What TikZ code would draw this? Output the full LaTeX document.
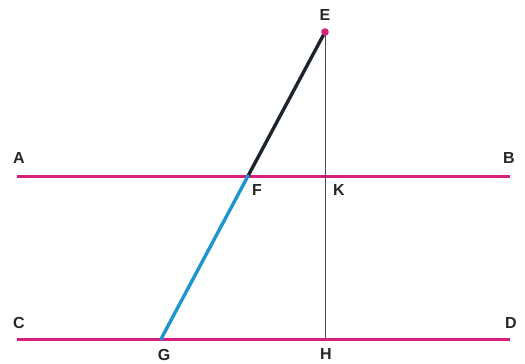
\documentclass[tikz,border=0pt]{standalone}
\usepackage{fontspec}
\setmainfont{Liberation Sans}
\usepackage{xcolor}
\usetikzlibrary{positioning, calc}
\definecolor{linepink}{RGB}{214, 32, 128}
\definecolor{segblue}{RGB}{28, 150, 210}
\definecolor{segdark}{RGB}{30, 36, 44}

\begin{document}
\begin{tikzpicture}[x=1pt, y=-1pt,
    parallel/.style={linepink, line width=3pt},
    ptlabel/.style={font=\fontsize{16}{16}\selectfont\bfseries, text=black!85, inner sep=0pt}]
        \useasboundingbox (0,0) rectangle (525,364);
        % points
        \coordinate (A) at (17,176);
        \coordinate (B) at (510,176);
        \coordinate (C) at (17,339);
        \coordinate (D) at (510,339);
        \coordinate (E) at (325,32);
        \coordinate (F) at (248,176);
        \coordinate (G) at (161,339);
        \coordinate (K) at (325,176);
        \coordinate (H) at (325,339);
        % the two parallels
        \draw[parallel] (A) -- (B);
        \draw[parallel] (C) -- (D);
        % perpendicular from E
        \draw[black!70, line width=0.8pt] (E) -- (H);
        % transversal
        \draw[segdark, line width=3.4pt, line cap=round] (E) -- (F);
        \draw[segblue, line width=3.4pt, line cap=round] (F) -- (G);
        \fill[linepink] (E) circle (3.8);
        % labels
        \node[ptlabel] (lE) at (325,15) {E};
        \node[ptlabel] (lA) at (19,158) {A};
        \node[ptlabel] (lB) at (509,158) {B};
        \node[ptlabel] (lF) at (257,190) {F};
        \node[ptlabel] (lK) at (339,190) {K};
        \node[ptlabel] (lC) at (19,323) {C};
        \node[ptlabel] (lD) at (511,323) {D};
        \node[ptlabel] (lG) at (164,355) {G};
        \node[ptlabel] (lH) at (326,354) {H};
      \end{tikzpicture}
\end{document}
